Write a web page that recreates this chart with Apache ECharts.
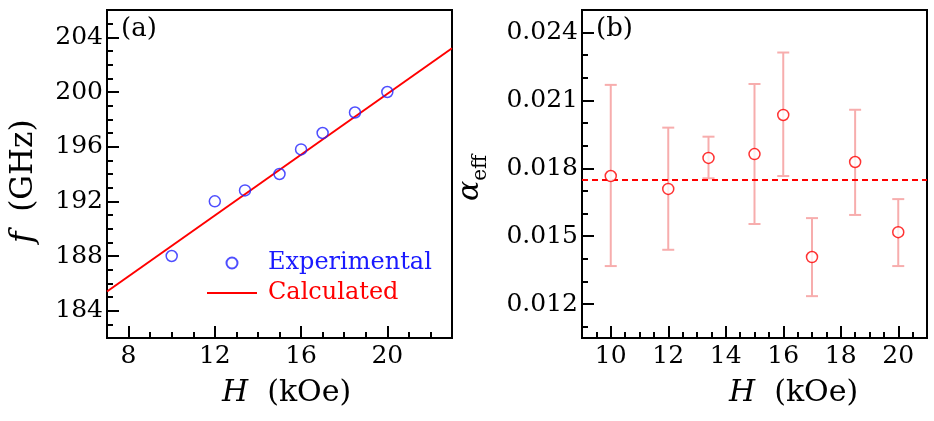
<!DOCTYPE html>
<html>
<head>
<meta charset="utf-8">
<script src="https://cdn.jsdelivr.net/npm/echarts@6/dist/echarts.min.js"></script>
<style>html,body{margin:0;padding:0;background:#fff}#c{width:934px;height:421px}</style>
</head>
<body>
<div id="c"></div>
<script>
// ---- Data ----
const fieldH = [10, 12, 13.4, 15, 16, 17, 18.5, 20];
const freqExp = [188, 192, 192.8, 194, 195.8, 197, 198.5, 200];
const calcH = [7, 23];
const calcF = [185.4, 203.2];

const alphaVal = [0.01766, 0.01709, 0.01846, 0.01863, 0.02036, 0.01408, 0.01828, 0.01518];
const alphaHi  = [0.02169, 0.01980, 0.01940, 0.02173, 0.02312, 0.01580, 0.02059, 0.01664];
const alphaLo  = [0.01368, 0.01440, 0.01756, 0.01554, 0.01766, 0.01235, 0.01594, 0.01368];
const alphaMean = 0.01748;

const aXMajor = [8, 12, 16, 20];
const aXMinor = [9, 10, 11, 13, 14, 15, 17, 18, 19, 21, 22];
const aYMajor = [184, 188, 192, 196, 200, 204];
const aYMinor = [183, 185, 186, 187, 189, 190, 191, 193, 194, 195, 197, 198, 199, 201, 202, 203, 205];
const bXMajor = [10, 12, 14, 16, 18, 20];
const bXMinor = [9.5, 10.5, 11, 11.5, 12.5, 13, 13.5, 14.5, 15, 15.5, 16.5, 17, 17.5, 18.5, 19, 19.5, 20.5];
const bYMajor = [0.012, 0.015, 0.018, 0.021, 0.024];
const bYMinor = [0.011, 0.013, 0.014, 0.016, 0.017, 0.019, 0.020, 0.022, 0.023];

// ---- Chart ----
const FONT = 'DejaVu Serif';
const chart = echarts.init(document.getElementById('c'), null, {renderer: 'canvas'});

function xAx(grid, min, max, major, minor, fmt) {
  return [
    {type: 'value', gridIndex: grid, min, max, position: 'bottom',
     axisLine: {show: false}, splitLine: {show: false},
     axisTick: {show: true, inside: true, length: 12, customValues: major, lineStyle: {color: '#000', width: 2}},
     axisLabel: {customValues: major, margin: 6, color: '#000', fontFamily: FONT, fontSize: 25, formatter: fmt}},
    {type: 'value', gridIndex: grid, min, max, position: 'bottom',
     axisLine: {show: false}, splitLine: {show: false},
     axisTick: {show: true, inside: true, length: 6, customValues: minor, lineStyle: {color: '#000', width: 2}},
     axisLabel: {show: false}}
  ];
}
function yAx(grid, min, max, major, minor, fmt) {
  return [
    {type: 'value', gridIndex: grid, min, max, position: 'left',
     axisLine: {show: false}, splitLine: {show: false},
     axisTick: {show: true, inside: true, length: 12, customValues: major, lineStyle: {color: '#000', width: 2}},
     axisLabel: {customValues: major, margin: 4, color: '#000', fontFamily: FONT, fontSize: 25, formatter: fmt}},
    {type: 'value', gridIndex: grid, min, max, position: 'left',
     axisLine: {show: false}, splitLine: {show: false},
     axisTick: {show: true, inside: true, length: 6, customValues: minor, lineStyle: {color: '#000', width: 2}},
     axisLabel: {show: false}}
  ];
}

const errSeries = {
  type: 'custom', xAxisIndex: 2, yAxisIndex: 2, silent: true, z: 2,
  data: fieldH.map((h, i) => [h, alphaLo[i], alphaHi[i]]),
  renderItem: function (params, api) {
    const lo = api.coord([api.value(0), api.value(1)]);
    const hi = api.coord([api.value(0), api.value(2)]);
    const w = 6;
    const st = {stroke: '#f7adad', lineWidth: 2};
    return {type: 'group', children: [
      {type: 'line', shape: {x1: lo[0], y1: lo[1], x2: hi[0], y2: hi[1]}, style: st},
      {type: 'line', shape: {x1: lo[0] - w, y1: lo[1], x2: lo[0] + w, y2: lo[1]}, style: st},
      {type: 'line', shape: {x1: hi[0] - w, y1: hi[1], x2: hi[0] + w, y2: hi[1]}, style: st}
    ]};
  }
};

const option = {
  animation: false,
  backgroundColor: '#fff',
  grid: [
    {left: 107, top: 10, width: 345, height: 328, show: true, borderColor: '#000', borderWidth: 2, backgroundColor: 'transparent'},
    {left: 582, top: 10, width: 345, height: 328, show: true, borderColor: '#000', borderWidth: 2, backgroundColor: 'transparent'}
  ],
  xAxis: [].concat(
    xAx(0, 7, 23, aXMajor, aXMinor, v => String(v)),
    xAx(1, 9, 21, bXMajor, bXMinor, v => String(v))
  ),
  yAxis: [].concat(
    yAx(0, 182, 206, aYMajor, aYMinor, v => String(v)),
    yAx(1, 0.0105, 0.025, bYMajor, bYMinor, v => v.toFixed(3))
  ),
  legend: {
    orient: 'vertical', left: 207, top: 251, padding: 0, itemWidth: 50, itemHeight: 11, itemGap: 6,
    textStyle: {fontFamily: FONT, fontSize: 24, lineHeight: 24, padding: [0, 0, 0, 6]},
    data: [
      {name: 'Experimental', textStyle: {color: '#1a1aff'}},
      {name: 'Calculated', icon: 'path://M0 0 H50 V2 H0 Z', textStyle: {color: '#ff0000'}}
    ]
  },
  series: [
    {name: 'Calculated', type: 'line', xAxisIndex: 0, yAxisIndex: 0, showSymbol: false, symbol: 'none',
     data: calcH.map((h, i) => [h, calcF[i]]), lineStyle: {color: '#ff0000', width: 2}, itemStyle: {color: '#ff0000'}, z: 3},
    {name: 'Experimental', type: 'scatter', xAxisIndex: 0, yAxisIndex: 0, symbol: 'circle', symbolSize: 11,
     data: fieldH.map((h, i) => [h, freqExp[i]]), itemStyle: {color: 'rgba(255,255,255,0)', borderColor: '#2222ff', borderWidth: 1.5}, z: 4},
    errSeries,
    {name: 'alphaMean', type: 'line', xAxisIndex: 2, yAxisIndex: 2, showSymbol: false, symbol: 'none',
     data: [[9, alphaMean], [21, alphaMean]], lineStyle: {color: '#ff0000', width: 2, type: [6, 4]}, z: 3},
    {name: 'alpha', type: 'scatter', xAxisIndex: 2, yAxisIndex: 2, symbol: 'circle', symbolSize: 11,
     data: fieldH.map((h, i) => [h, alphaVal[i]]), itemStyle: {color: '#fff', borderColor: '#ff0000', borderWidth: 1.5}, z: 4}
  ],
  graphic: [
    {type: 'text', left: 121, top: 16, style: {text: '(a)', font: '26px "DejaVu Serif"', fill: '#000'}},
    {type: 'text', left: 596, top: 16, style: {text: '(b)', font: '26px "DejaVu Serif"', fill: '#000'}},
    {type: 'text', left: 222, top: 378, style: {
      text: '{i|H}  (kOe)', font: '30px "DejaVu Serif"', fill: '#000',
      rich: {i: {fontStyle: 'italic', fontFamily: FONT, fontSize: 30}}}},
    {type: 'text', left: 729, top: 378, style: {
      text: '{i|H}  (kOe)', font: '30px "DejaVu Serif"', fill: '#000',
      rich: {i: {fontStyle: 'italic', fontFamily: FONT, fontSize: 30}}}},
    {type: 'text', x: 8, y: 243, rotation: Math.PI / 2, style: {
      text: '{i|f}  (GHz)', font: '31px "DejaVu Serif"', fill: '#000',
      rich: {i: {fontStyle: 'italic', fontFamily: FONT, fontSize: 31}}}},
    {type: 'text', x: 455, y: 201, rotation: Math.PI / 2, style: {
      text: '{a|α}{s|eff}', fill: '#000',
      rich: {a: {fontStyle: 'italic', fontFamily: FONT, fontSize: 30, verticalAlign: 'bottom'},
             s: {fontFamily: FONT, fontSize: 20, verticalAlign: 'bottom', padding: [0, 0, -6, 0]}}}}
  ]
};
chart.setOption(option);
</script>
</body>
</html>
